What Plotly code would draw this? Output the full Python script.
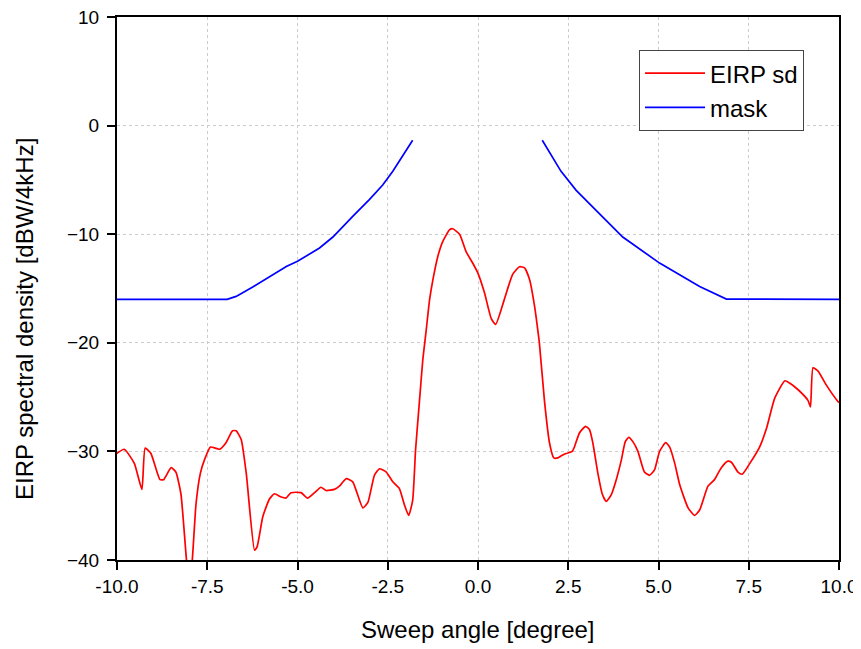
import plotly.graph_objects as go

# EIRP spectral density (red)
eirp_angle = [-10.01, -9.80, -9.52, -9.31, -9.22, -9.06, -8.81, -8.71, -8.50, -8.37, -8.23, -8.07, -8.00, -7.92,
              -7.81, -7.69, -7.58, -7.41, -7.16, -6.98, -6.80, -6.70, -6.56, -6.42, -6.19, -6.12, -5.96, -5.78,
              -5.64, -5.45, -5.32, -5.18, -4.90, -4.72, -4.53, -4.35, -4.21, -3.98, -3.84, -3.65, -3.47, -3.19,
              -3.05, -2.87, -2.73, -2.54, -2.36, -2.18, -2.04, -1.92, -1.81, -1.73, -1.62, -1.53, -1.44, -1.34,
              -1.25, -1.11, -0.98, -0.79, -0.70, -0.51, -0.33, -0.14, 0.00, 0.18, 0.37, 0.49, 0.73, 0.96, 1.15,
              1.29, 1.43, 1.57, 1.64, 1.70, 1.84, 1.98, 2.10, 2.21, 2.31, 2.44, 2.61, 2.67, 2.81, 2.98, 3.09,
              3.18, 3.32, 3.44, 3.55, 3.69, 3.83, 3.97, 4.08, 4.18, 4.29, 4.43, 4.61, 4.75, 4.89, 5.03, 5.20,
              5.31, 5.45, 5.59, 5.82, 6.00, 6.14, 6.37, 6.55, 6.74, 6.92, 7.02, 7.20, 7.32, 7.53, 7.80, 7.99,
              8.22, 8.50, 8.63, 8.86, 9.14, 9.21, 9.28, 9.42, 9.65, 9.97, 10.0]
eirp_value = [-30.2, -29.8, -31.1, -33.5, -29.7, -30.2, -32.6, -32.6, -31.5, -31.9, -33.9, -40.2, -42.0, -40.2,
              -34.8, -32.0, -30.8, -29.6, -29.8, -29.2, -28.1, -28.1, -28.9, -32.0, -39.1, -38.8, -36.0, -34.4,
              -33.9, -34.2, -34.3, -33.8, -33.8, -34.3, -33.8, -33.3, -33.6, -33.5, -33.2, -32.5, -32.8, -35.2,
              -34.7, -32.2, -31.6, -31.9, -32.8, -33.4, -34.9, -35.9, -34.5, -29.9, -25.3, -21.6, -19.0, -16.0,
              -14.2, -12.0, -10.7, -9.6, -9.5, -10.0, -11.6, -12.7, -13.6, -15.4, -17.8, -18.3, -16.0, -13.7,
              -13.0, -13.1, -14.2, -16.7, -18.4, -20.0, -25.3, -29.2, -30.6, -30.6, -30.4, -30.2, -30.0, -29.6,
              -28.3, -27.7, -28.0, -29.2, -32.0, -33.9, -34.6, -34.0, -32.6, -30.8, -29.1, -28.7, -29.1, -30.0,
              -31.9, -32.2, -31.7, -30.0, -29.2, -29.6, -31.1, -33.1, -35.2, -35.9, -35.4, -33.2, -32.6, -31.5,
              -30.9, -31.0, -31.9, -32.1, -31.1, -29.6, -27.9, -25.1, -23.5, -23.7, -24.3, -25.3, -25.9, -22.3,
              -22.6, -23.9, -25.4, -25.5]

# Mask (blue), two branches
mask_angle = [-10.0, -6.95, -6.70, -6.24, -5.31, -5.00, -4.39, -4.02, -3.47, -3.01, -2.64, -2.36, -1.81,
              None,
              1.78, 2.30, 2.72, 3.27, 4.01, 5.03, 6.14, 6.88, 10.0]
mask_value = [-16.0, -16.0, -15.73, -14.87, -12.97, -12.5, -11.27, -10.26, -8.36, -6.82, -5.47, -4.21, -1.35,
              None,
              -1.35, -4.21, -5.96, -7.80, -10.26, -12.66, -14.81, -15.97, -16.0]

x_ticks = [-10.0, -7.5, -5.0, -2.5, 0.0, 2.5, 5.0, 7.5, 10.0]
x_tick_labels = ["-10.0", "-7.5", "-5.0", "-2.5", "0.0", "2.5", "5.0", "7.5", "10.0"]
y_ticks = [-40, -30, -20, -10, 0, 10]

x_title = "Sweep angle [degree]"
y_title = "EIRP spectral density [dBW/4kHz]"

fig = go.Figure()
fig.add_trace(go.Scatter(x=eirp_angle, y=eirp_value, mode="lines", name="EIRP sd",
                         line=dict(color="#ff0000", width=1.7, shape="spline", smoothing=0.5)))
fig.add_trace(go.Scatter(x=mask_angle, y=mask_value, mode="lines", name="mask",
                         line=dict(color="#0000ff", width=1.7), connectgaps=False))

font_family = "Liberation Sans, Arial, sans-serif"
fig.update_layout(
    width=853, height=641,
    margin=dict(l=109, r=22, t=9, b=89, autoexpand=False),
    paper_bgcolor="white", plot_bgcolor="white",
    font=dict(family=font_family, color="black", size=18),
    showlegend=True,
    legend=dict(x=0.723, y=0.939, xanchor="left", yanchor="top",
                bordercolor="#444444", borderwidth=1, bgcolor="white",
                font=dict(size=24, family=font_family), itemwidth=60,
                tracegroupgap=0),
    xaxis=dict(range=[-10, 10], tickvals=x_ticks, ticktext=x_tick_labels,
               showline=True, linecolor="black", linewidth=2, mirror=True,
               ticks="outside", ticklen=8, tickwidth=2, tickcolor="black",
               showgrid=True, gridcolor="#cccccc", griddash="dot", gridwidth=1,
               zeroline=False, automargin=False, ticklabeloverflow="allow",
               tickfont=dict(size=19)),
    yaxis=dict(range=[-40, 10], tickvals=y_ticks,
               showline=True, linecolor="black", linewidth=2, mirror=True,
               ticks="outside", ticklen=8, tickwidth=2, tickcolor="black",
               showgrid=True, gridcolor="#cccccc", griddash="dot", gridwidth=1,
               zeroline=False, automargin=False, ticklabelstandoff=4,
               ticklabeloverflow="allow",
               tickfont=dict(size=19)),
    annotations=[
        dict(text=x_title, xref="paper", yref="paper", x=0.5, y=(560 - 629) / 543,
             xanchor="center", yanchor="middle", showarrow=False,
             font=dict(size=24, family=font_family, color="black")),
        dict(text=y_title, xref="paper", yref="paper", x=(24 - 117) / 722, y=(560 - 319) / 543,
             xanchor="center", yanchor="middle", showarrow=False, textangle=-90,
             font=dict(size=24, family=font_family, color="black")),
    ],
)

fig.write_html("out.html")
